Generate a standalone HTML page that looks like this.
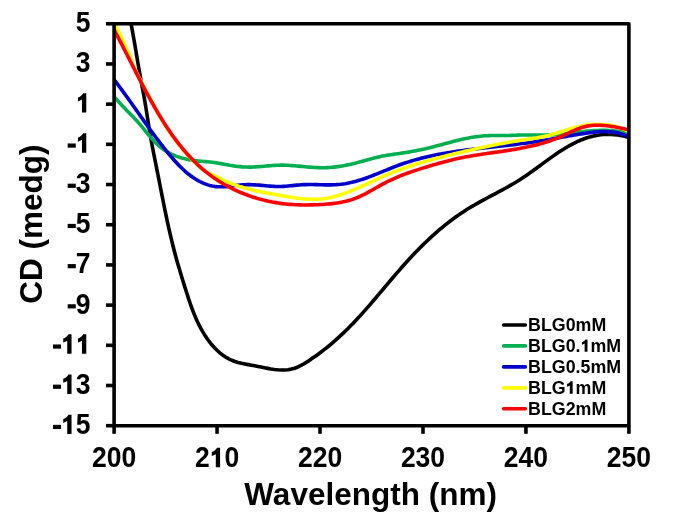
<!DOCTYPE html>
<html><head><meta charset="utf-8"><style>
html,body{margin:0;padding:0;background:#fff;width:673px;height:520px;overflow:hidden;}
svg{display:block;will-change:transform;}
</style></head><body>
<svg width="673" height="520" viewBox="0 0 673 520">
<defs><clipPath id="pa"><rect x="114.1" y="23.8" width="514.8" height="401.9"/></clipPath></defs>
<g clip-path="url(#pa)" fill="none" stroke-width="3.6" stroke-linejoin="round" stroke-linecap="butt">
<path d="M128.56,11.08 L131.17,24.52 L131.81,27.85 L132.43,31.17 L133.04,34.49 L133.63,37.81 L134.21,41.12 L134.78,44.43 L135.35,47.74 L135.91,51.05 L136.46,54.35 L137.02,57.66 L137.57,60.96 L138.13,64.26 L138.70,67.56 L139.27,70.86 L139.85,74.16 L140.44,77.46 L141.05,80.76 L141.66,84.06 L142.29,87.37 L142.91,90.67 L143.53,93.98 L144.13,97.29 L144.72,100.61 L145.28,103.93 L145.82,107.26 L146.35,110.59 L146.88,113.92 L147.39,117.25 L147.90,120.58 L148.42,123.91 L148.95,127.23 L149.49,130.55 L150.04,133.87 L150.61,137.17 L151.21,140.48 L151.82,143.77 L152.44,147.06 L153.08,150.35 L153.72,153.64 L154.37,156.92 L155.03,160.20 L155.69,163.49 L156.35,166.77 L157.01,170.06 L157.66,173.35 L158.31,176.64 L158.96,179.93 L159.61,183.23 L160.25,186.53 L160.90,189.83 L161.55,193.12 L162.20,196.42 L162.86,199.72 L163.51,203.02 L164.18,206.32 L164.85,209.62 L165.53,212.91 L166.22,216.20 L166.91,219.49 L167.62,222.78 L168.34,226.07 L169.07,229.35 L169.82,232.63 L170.57,235.90 L171.35,239.17 L172.14,242.44 L172.95,245.70 L173.78,248.95 L174.62,252.20 L175.49,255.45 L176.38,258.68 L177.28,261.91 L178.21,265.14 L179.15,268.36 L180.10,271.57 L181.07,274.78 L182.05,277.99 L183.04,281.19 L184.03,284.39 L185.03,287.59 L186.04,290.78 L187.06,293.97 L188.08,297.16 L189.13,300.34 L190.21,303.52 L191.32,306.68 L192.48,309.83 L193.70,312.97 L194.97,316.09 L196.32,319.20 L197.74,322.29 L199.24,325.35 L200.84,328.40 L202.54,331.42 L204.36,334.41 L206.28,337.35 L208.31,340.23 L210.45,343.04 L212.71,345.74 L215.08,348.32 L217.56,350.76 L220.16,353.05 L222.87,355.16 L225.70,357.07 L228.64,358.78 L231.70,360.25 L234.88,361.47 L238.15,362.47 L241.48,363.30 L244.84,363.99 L248.18,364.62 L251.49,365.21 L254.73,365.81 L257.93,366.44 L261.13,367.08 L264.37,367.74 L267.68,368.38 L271.02,368.96 L274.40,369.45 L277.80,369.81 L281.21,369.99 L284.61,369.96 L288.00,369.68 L291.36,369.11 L294.67,368.20 L297.91,366.95 L301.05,365.43 L304.09,363.72 L307.02,361.90 L309.86,360.02 L312.65,358.11 L315.40,356.16 L318.11,354.18 L320.81,352.18 L323.49,350.15 L326.15,348.08 L328.77,345.98 L331.36,343.83 L333.90,341.65 L336.42,339.44 L338.90,337.20 L341.35,334.93 L343.78,332.63 L346.17,330.31 L348.54,327.95 L350.89,325.58 L353.21,323.18 L355.51,320.76 L357.79,318.32 L360.05,315.86 L362.29,313.39 L364.52,310.89 L366.73,308.39 L368.93,305.87 L371.12,303.33 L373.30,300.79 L375.47,298.24 L377.64,295.69 L379.80,293.12 L381.97,290.56 L384.13,287.99 L386.29,285.42 L388.46,282.85 L390.63,280.28 L392.81,277.72 L394.99,275.16 L397.19,272.61 L399.39,270.06 L401.61,267.53 L403.85,265.01 L406.10,262.50 L408.37,260.00 L410.66,257.52 L412.97,255.05 L415.30,252.61 L417.65,250.18 L420.02,247.77 L422.41,245.39 L424.83,243.03 L427.27,240.69 L429.73,238.38 L432.21,236.10 L434.72,233.85 L437.25,231.63 L439.80,229.44 L442.38,227.28 L444.98,225.16 L447.61,223.07 L450.27,221.03 L452.95,219.02 L455.66,217.04 L458.39,215.12 L461.15,213.23 L463.94,211.39 L466.76,209.59 L469.60,207.84 L472.48,206.13 L475.37,204.46 L478.28,202.82 L481.21,201.20 L484.16,199.60 L487.11,198.02 L490.08,196.45 L493.05,194.87 L496.02,193.30 L498.99,191.71 L501.96,190.12 L504.92,188.50 L507.87,186.86 L510.81,185.18 L513.73,183.47 L516.64,181.72 L519.52,179.92 L522.38,178.07 L525.22,176.16 L528.04,174.22 L530.84,172.24 L533.63,170.24 L536.41,168.22 L539.18,166.19 L541.94,164.15 L544.71,162.12 L547.47,160.10 L550.24,158.11 L553.01,156.14 L555.79,154.21 L558.59,152.32 L561.40,150.48 L564.23,148.70 L567.08,146.99 L569.96,145.35 L572.86,143.80 L575.80,142.33 L578.76,140.97 L581.77,139.70 L584.81,138.56 L587.89,137.53 L591.02,136.63 L594.20,135.87 L597.43,135.25 L600.71,134.78 L604.05,134.48 L607.45,134.34 L610.91,134.38 L614.44,134.59 L618.03,135.00 L621.70,135.61 L625.44,136.43 L629.26,137.45" stroke="#000000"/>
<path d="M106.27,87.27 L114.71,97.30 L116.15,99.00 L117.60,100.65 L119.07,102.28 L120.55,103.89 L122.03,105.47 L123.53,107.04 L125.03,108.60 L126.54,110.14 L128.04,111.68 L129.55,113.22 L131.05,114.76 L132.55,116.31 L134.04,117.87 L135.52,119.44 L136.99,121.03 L138.44,122.64 L139.88,124.28 L141.30,125.94 L142.71,127.63 L144.11,129.34 L145.50,131.06 L146.90,132.77 L148.30,134.49 L149.72,136.19 L151.15,137.87 L152.61,139.53 L154.09,141.15 L155.61,142.73 L157.17,144.26 L158.76,145.73 L160.41,147.15 L162.11,148.49 L163.87,149.76 L165.68,150.95 L167.55,152.07 L169.46,153.12 L171.41,154.09 L173.41,155.00 L175.44,155.84 L177.50,156.62 L179.60,157.33 L181.72,157.98 L183.86,158.57 L186.02,159.09 L188.19,159.56 L190.38,159.97 L192.57,160.33 L194.77,160.63 L196.97,160.88 L199.17,161.09 L201.37,161.27 L203.56,161.44 L205.74,161.61 L207.92,161.80 L210.09,162.01 L212.24,162.27 L214.39,162.56 L216.53,162.88 L218.66,163.23 L220.80,163.61 L222.93,164.01 L225.06,164.41 L227.20,164.81 L229.34,165.19 L231.48,165.56 L233.64,165.89 L235.80,166.18 L237.97,166.44 L240.13,166.66 L242.31,166.84 L244.48,166.97 L246.65,167.06 L248.82,167.09 L250.99,167.08 L253.16,167.01 L255.32,166.91 L257.48,166.77 L259.64,166.61 L261.80,166.43 L263.97,166.24 L266.13,166.05 L268.29,165.86 L270.45,165.67 L272.62,165.51 L274.78,165.37 L276.95,165.26 L279.13,165.18 L281.30,165.15 L283.48,165.17 L285.66,165.22 L287.85,165.31 L290.03,165.44 L292.22,165.58 L294.41,165.75 L296.60,165.94 L298.80,166.13 L300.99,166.34 L303.18,166.54 L305.37,166.74 L307.56,166.94 L309.75,167.12 L311.94,167.29 L314.13,167.44 L316.32,167.56 L318.50,167.65 L320.68,167.70 L322.86,167.71 L325.04,167.68 L327.21,167.60 L329.37,167.48 L331.54,167.32 L333.70,167.11 L335.85,166.87 L338.01,166.59 L340.16,166.27 L342.30,165.91 L344.44,165.53 L346.58,165.11 L348.72,164.67 L350.85,164.20 L352.97,163.70 L355.09,163.17 L357.21,162.63 L359.33,162.07 L361.45,161.50 L363.56,160.92 L365.67,160.34 L367.78,159.76 L369.90,159.19 L372.01,158.62 L374.13,158.07 L376.24,157.54 L378.37,157.04 L380.49,156.56 L382.62,156.11 L384.76,155.70 L386.90,155.32 L389.04,154.98 L391.19,154.66 L393.34,154.35 L395.49,154.06 L397.65,153.76 L399.80,153.46 L401.94,153.15 L404.09,152.82 L406.23,152.47 L408.37,152.11 L410.51,151.74 L412.65,151.35 L414.78,150.94 L416.91,150.52 L419.04,150.09 L421.17,149.64 L423.30,149.18 L425.42,148.70 L427.54,148.21 L429.65,147.70 L431.77,147.18 L433.88,146.65 L435.99,146.10 L438.10,145.55 L440.21,144.99 L442.32,144.42 L444.43,143.85 L446.54,143.29 L448.64,142.72 L450.75,142.16 L452.86,141.61 L454.97,141.07 L457.09,140.54 L459.20,140.02 L461.32,139.52 L463.44,139.04 L465.56,138.58 L467.69,138.14 L469.82,137.73 L471.96,137.35 L474.10,137.01 L476.25,136.69 L478.40,136.41 L480.56,136.17 L482.73,135.96 L484.90,135.81 L487.08,135.69 L489.26,135.61 L491.45,135.55 L493.64,135.53 L495.83,135.51 L498.03,135.51 L500.22,135.52 L502.41,135.52 L504.60,135.51 L506.79,135.49 L508.97,135.45 L511.15,135.39 L513.32,135.30 L515.49,135.20 L517.65,135.10 L519.82,135.03 L521.99,134.98 L524.16,134.96 L526.33,134.97 L528.50,134.98 L530.68,135.01 L532.86,135.04 L535.03,135.08 L537.21,135.10 L539.39,135.11 L541.56,135.10 L543.74,135.07 L545.91,135.01 L548.09,134.92 L550.26,134.80 L552.43,134.66 L554.60,134.50 L556.77,134.32 L558.94,134.12 L561.11,133.91 L563.28,133.69 L565.45,133.45 L567.62,133.21 L569.79,132.97 L571.95,132.72 L574.12,132.47 L576.29,132.23 L578.46,131.99 L580.62,131.75 L582.79,131.53 L584.96,131.32 L587.13,131.12 L589.30,130.94 L591.47,130.78 L593.64,130.63 L595.81,130.52 L597.98,130.43 L600.15,130.36 L602.32,130.33 L604.50,130.33 L606.67,130.37 L608.84,130.45 L611.02,130.56 L613.20,130.72 L615.38,130.92 L617.56,131.18 L619.74,131.48 L621.92,131.83 L624.11,132.24 L626.29,132.71 L628.48,133.23" stroke="#00B050"/>
<path d="M106.56,69.76 L114.56,80.24 L116.00,82.13 L117.42,84.00 L118.82,85.88 L120.21,87.75 L121.59,89.61 L122.95,91.48 L124.31,93.33 L125.65,95.19 L126.98,97.04 L128.31,98.89 L129.63,100.73 L130.94,102.57 L132.24,104.41 L133.54,106.25 L134.84,108.08 L136.13,109.91 L137.42,111.74 L138.71,113.57 L140.00,115.40 L141.30,117.23 L142.59,119.05 L143.88,120.88 L145.18,122.70 L146.49,124.52 L147.79,126.34 L149.11,128.17 L150.43,129.99 L151.76,131.81 L153.10,133.63 L154.45,135.46 L155.81,137.28 L157.18,139.11 L158.57,140.93 L159.96,142.76 L161.38,144.59 L162.80,146.42 L164.25,148.25 L165.71,150.09 L167.19,151.93 L168.69,153.76 L170.21,155.59 L171.75,157.40 L173.31,159.20 L174.89,160.99 L176.49,162.74 L178.12,164.47 L179.77,166.17 L181.45,167.83 L183.15,169.45 L184.87,171.03 L186.63,172.55 L188.41,174.02 L190.22,175.44 L192.05,176.79 L193.92,178.07 L195.82,179.29 L197.74,180.43 L199.70,181.49 L201.69,182.47 L203.72,183.36 L205.77,184.15 L207.87,184.86 L209.99,185.46 L212.15,185.95 L214.35,186.34 L216.59,186.61 L218.86,186.77 L221.17,186.81 L223.52,186.74 L225.89,186.59 L228.28,186.37 L230.69,186.11 L233.10,185.82 L235.53,185.53 L237.94,185.25 L240.35,185.01 L242.75,184.81 L245.13,184.69 L247.48,184.64 L249.82,184.65 L252.14,184.72 L254.44,184.83 L256.73,184.98 L259.00,185.16 L261.26,185.35 L263.51,185.56 L265.75,185.76 L267.98,185.96 L270.21,186.14 L272.43,186.29 L274.64,186.41 L276.86,186.48 L279.07,186.50 L281.28,186.46 L283.50,186.36 L285.71,186.22 L287.94,186.03 L290.16,185.82 L292.39,185.60 L294.63,185.37 L296.88,185.16 L299.14,184.96 L301.40,184.79 L303.68,184.67 L305.97,184.59 L308.27,184.56 L310.58,184.55 L312.90,184.57 L315.22,184.61 L317.55,184.67 L319.88,184.72 L322.20,184.78 L324.53,184.83 L326.85,184.86 L329.17,184.86 L331.49,184.84 L333.79,184.78 L336.09,184.67 L338.37,184.51 L340.64,184.29 L342.90,184.01 L345.15,183.67 L347.38,183.28 L349.60,182.83 L351.81,182.33 L354.01,181.78 L356.21,181.19 L358.39,180.55 L360.56,179.88 L362.73,179.18 L364.89,178.44 L367.04,177.68 L369.19,176.89 L371.34,176.08 L373.48,175.25 L375.61,174.41 L377.75,173.55 L379.88,172.69 L382.01,171.82 L384.14,170.95 L386.28,170.08 L388.41,169.21 L390.55,168.35 L392.68,167.50 L394.82,166.67 L396.97,165.85 L399.12,165.05 L401.27,164.27 L403.43,163.53 L405.60,162.80 L407.77,162.10 L409.95,161.42 L412.13,160.76 L414.32,160.12 L416.51,159.51 L418.70,158.91 L420.90,158.34 L423.11,157.78 L425.32,157.25 L427.53,156.73 L429.75,156.23 L431.97,155.74 L434.19,155.28 L436.42,154.82 L438.65,154.39 L440.89,153.96 L443.13,153.56 L445.37,153.16 L447.61,152.78 L449.86,152.41 L452.11,152.05 L454.36,151.70 L456.62,151.37 L458.87,151.04 L461.13,150.72 L463.39,150.41 L465.65,150.11 L467.92,149.82 L470.18,149.53 L472.45,149.25 L474.72,148.98 L476.99,148.71 L479.26,148.44 L481.53,148.18 L483.80,147.93 L486.08,147.67 L488.35,147.42 L490.62,147.17 L492.90,146.92 L495.17,146.67 L497.45,146.42 L499.72,146.17 L501.99,145.92 L504.27,145.67 L506.54,145.42 L508.81,145.16 L511.08,144.90 L513.35,144.63 L515.62,144.36 L517.88,144.08 L520.15,143.80 L522.41,143.51 L524.68,143.22 L526.94,142.91 L529.20,142.60 L531.45,142.28 L533.71,141.95 L535.96,141.61 L538.21,141.26 L540.46,140.90 L542.70,140.53 L544.95,140.16 L547.19,139.78 L549.44,139.40 L551.68,139.01 L553.92,138.61 L556.16,138.22 L558.41,137.82 L560.65,137.43 L562.89,137.03 L565.14,136.64 L567.39,136.24 L569.63,135.85 L571.88,135.46 L574.14,135.08 L576.39,134.71 L578.65,134.34 L580.91,133.97 L583.18,133.62 L585.45,133.28 L587.72,132.94 L589.99,132.63 L592.27,132.35 L594.55,132.10 L596.83,131.89 L599.10,131.72 L601.38,131.61 L603.66,131.56 L605.94,131.57 L608.21,131.65 L610.49,131.81 L612.76,132.06 L615.02,132.39 L617.28,132.83 L619.54,133.36 L621.79,134.01 L624.03,134.77 L626.27,135.66 L628.50,136.67" stroke="#0000CC"/>
<path d="M108.56,12.57 L114.76,24.29 L115.93,26.53 L117.09,28.76 L118.22,31.00 L119.34,33.23 L120.43,35.47 L121.52,37.72 L122.58,39.96 L123.64,42.21 L124.68,44.45 L125.71,46.70 L126.73,48.94 L127.74,51.19 L128.74,53.50 L129.74,55.96 L130.73,58.51 L131.72,61.07 L132.70,63.59 L133.68,66.02 L134.66,68.34 L135.63,70.54 L136.61,72.62 L137.59,74.60 L138.58,76.52 L139.57,78.44 L140.56,80.36 L141.56,82.29 L142.57,84.22 L143.58,86.15 L144.61,88.09 L145.64,90.05 L146.69,92.01 L147.75,93.98 L148.83,95.96 L149.92,97.95 L151.03,99.99 L152.15,102.10 L153.30,104.27 L154.46,106.49 L155.65,108.75 L156.85,111.03 L158.08,113.31 L159.34,115.58 L160.62,117.81 L161.92,119.98 L163.25,122.11 L164.61,124.25 L166.00,126.39 L167.41,128.53 L168.85,130.67 L170.32,132.81 L171.81,134.95 L173.33,137.07 L174.88,139.19 L176.45,141.29 L178.05,143.38 L179.67,145.45 L181.31,147.50 L182.99,149.52 L184.68,151.53 L186.41,153.51 L188.15,155.46 L189.92,157.38 L191.72,159.28 L193.54,161.14 L195.38,162.96 L197.25,164.76 L199.14,166.51 L201.06,168.22 L202.99,169.76 L204.95,171.13 L206.94,172.34 L208.94,173.40 L210.97,174.35 L213.03,175.23 L215.10,176.12 L217.19,177.10 L219.31,178.22 L221.45,179.30 L223.61,180.34 L225.79,181.33 L228.00,182.27 L230.22,183.17 L232.46,184.02 L234.71,184.84 L236.99,185.61 L239.28,186.36 L241.59,187.06 L243.91,187.74 L246.25,188.38 L248.60,189.00 L250.96,189.59 L253.34,190.15 L255.73,190.70 L258.13,191.22 L260.54,191.73 L262.96,192.22 L265.39,192.70 L267.82,193.16 L270.27,193.62 L272.72,194.06 L275.18,194.51 L277.65,194.95 L280.12,195.38 L282.59,195.82 L285.07,196.25 L287.55,196.67 L290.03,197.08 L292.51,197.47 L295.00,197.84 L297.48,198.17 L299.95,198.48 L302.43,198.74 L304.90,198.97 L307.36,199.14 L309.82,199.26 L312.26,199.32 L314.70,199.32 L317.13,199.26 L319.55,199.12 L321.96,198.90 L324.35,198.61 L326.74,198.24 L329.11,197.80 L331.47,197.30 L333.82,196.73 L336.17,196.11 L338.50,195.42 L340.83,194.69 L343.15,193.91 L345.46,193.09 L347.77,192.23 L350.07,191.32 L352.36,190.39 L354.65,189.43 L356.94,188.44 L359.22,187.43 L361.50,186.40 L363.78,185.36 L366.06,184.31 L368.34,183.25 L370.61,182.19 L372.89,181.12 L375.16,180.07 L377.44,179.02 L379.72,177.98 L382.00,176.96 L384.28,175.95 L386.57,174.97 L388.86,174.01 L391.16,173.08 L393.46,172.16 L395.76,171.27 L398.06,170.40 L400.37,169.54 L402.69,168.71 L405.00,167.89 L407.32,167.09 L409.64,166.31 L411.97,165.54 L414.30,164.79 L416.63,164.06 L418.97,163.34 L421.31,162.63 L423.65,161.94 L426.00,161.26 L428.35,160.59 L430.70,159.94 L433.06,159.29 L435.42,158.66 L437.78,158.03 L440.14,157.41 L442.51,156.80 L444.88,156.20 L447.26,155.61 L449.63,155.02 L452.01,154.44 L454.40,153.86 L456.78,153.29 L459.17,152.72 L461.57,152.16 L463.96,151.60 L466.36,151.04 L468.76,150.49 L471.16,149.94 L473.57,149.40 L475.98,148.86 L478.38,148.33 L480.80,147.80 L483.21,147.28 L485.62,146.77 L488.04,146.26 L490.46,145.76 L492.88,145.27 L495.30,144.79 L497.72,144.31 L500.14,143.85 L502.56,143.39 L504.98,142.95 L507.41,142.51 L509.83,142.09 L512.25,141.67 L514.68,141.27 L517.10,140.88 L519.52,140.50 L521.95,140.13 L524.37,139.77 L526.79,139.42 L529.21,139.06 L531.63,138.69 L534.04,138.31 L536.45,137.91 L538.86,137.48 L541.26,137.03 L543.66,136.54 L546.05,136.01 L548.44,135.43 L550.82,134.80 L553.19,134.13 L555.56,133.42 L557.93,132.69 L560.30,131.94 L562.67,131.18 L565.04,130.43 L567.42,129.69 L569.80,128.96 L572.19,128.26 L574.59,127.61 L576.99,126.99 L579.41,126.44 L581.84,125.94 L584.28,125.51 L586.72,125.14 L589.18,124.84 L591.64,124.61 L594.10,124.45 L596.57,124.36 L599.05,124.35 L601.52,124.43 L603.99,124.58 L606.47,124.82 L608.94,125.15 L611.41,125.57 L613.88,126.08 L616.34,126.68 L618.79,127.39 L621.24,128.19 L623.68,129.10 L626.11,130.11 L628.53,131.22" stroke="#FFFF00"/>
<path d="M108.52,19.40 L114.78,31.13 L115.99,33.40 L117.19,35.67 L118.38,37.93 L119.55,40.17 L120.72,42.41 L121.87,44.65 L123.02,46.87 L124.15,49.09 L125.28,51.30 L126.41,53.50 L127.53,55.70 L128.64,57.89 L129.75,60.08 L130.85,62.26 L131.96,64.44 L133.06,66.61 L134.16,68.78 L135.26,70.94 L136.37,73.11 L137.47,75.27 L138.58,77.42 L139.69,79.58 L140.80,81.73 L141.92,83.88 L143.05,86.03 L144.18,88.18 L145.32,90.33 L146.46,92.48 L147.62,94.63 L148.79,96.78 L149.96,98.93 L151.15,101.08 L152.35,103.22 L153.56,105.37 L154.78,107.51 L156.02,109.65 L157.26,111.78 L158.52,113.91 L159.80,116.03 L161.09,118.14 L162.39,120.24 L163.71,122.34 L165.05,124.42 L166.40,126.50 L167.77,128.56 L169.15,130.61 L170.55,132.65 L171.97,134.67 L173.41,136.68 L174.86,138.67 L176.34,140.65 L177.83,142.61 L179.35,144.55 L180.88,146.47 L182.44,148.37 L184.02,150.25 L185.62,152.11 L187.24,153.94 L188.88,155.76 L190.55,157.55 L192.24,159.31 L193.95,161.05 L195.69,162.76 L197.45,164.45 L199.24,166.10 L201.05,167.73 L202.89,169.33 L204.75,170.89 L206.65,172.43 L208.57,173.93 L210.51,175.40 L212.49,176.84 L214.49,178.24 L216.52,179.60 L218.58,180.94 L220.66,182.23 L222.76,183.50 L224.89,184.73 L227.04,185.92 L229.21,187.08 L231.40,188.20 L233.61,189.29 L235.84,190.34 L238.09,191.35 L240.36,192.33 L242.64,193.28 L244.94,194.18 L247.25,195.05 L249.57,195.89 L251.91,196.69 L254.26,197.45 L256.62,198.17 L259.00,198.86 L261.38,199.51 L263.77,200.13 L266.17,200.70 L268.57,201.24 L270.98,201.74 L273.40,202.20 L275.82,202.63 L278.24,203.02 L280.67,203.37 L283.09,203.68 L285.52,203.95 L287.96,204.19 L290.39,204.39 L292.83,204.56 L295.27,204.70 L297.72,204.81 L300.17,204.89 L302.62,204.93 L305.08,204.96 L307.54,204.95 L310.01,204.92 L312.49,204.87 L314.97,204.79 L317.45,204.69 L319.94,204.57 L322.44,204.43 L324.94,204.27 L327.45,204.08 L329.95,203.86 L332.44,203.60 L334.93,203.30 L337.41,202.95 L339.87,202.55 L342.31,202.10 L344.74,201.58 L347.14,201.00 L349.52,200.35 L351.87,199.63 L354.18,198.82 L356.47,197.94 L358.72,196.99 L360.95,195.97 L363.15,194.90 L365.34,193.78 L367.51,192.63 L369.67,191.44 L371.82,190.24 L373.96,189.02 L376.10,187.80 L378.25,186.59 L380.39,185.38 L382.55,184.20 L384.72,183.05 L386.90,181.93 L389.10,180.85 L391.31,179.81 L393.54,178.79 L395.77,177.81 L398.02,176.85 L400.28,175.93 L402.55,175.03 L404.83,174.15 L407.12,173.30 L409.42,172.47 L411.73,171.66 L414.05,170.87 L416.37,170.10 L418.71,169.34 L421.04,168.60 L423.39,167.87 L425.74,167.16 L428.09,166.45 L430.45,165.76 L432.81,165.07 L435.18,164.39 L437.55,163.71 L439.92,163.05 L442.30,162.40 L444.68,161.76 L447.06,161.14 L449.45,160.53 L451.84,159.94 L454.23,159.37 L456.63,158.82 L459.03,158.29 L461.44,157.79 L463.85,157.30 L466.26,156.84 L468.67,156.40 L471.09,155.97 L473.51,155.56 L475.93,155.16 L478.36,154.78 L480.78,154.41 L483.21,154.04 L485.64,153.68 L488.06,153.33 L490.49,152.98 L492.92,152.64 L495.35,152.29 L497.77,151.95 L500.20,151.60 L502.62,151.25 L505.05,150.89 L507.47,150.52 L509.88,150.14 L512.30,149.75 L514.71,149.35 L517.12,148.94 L519.53,148.50 L521.93,148.05 L524.33,147.58 L526.73,147.09 L529.12,146.58 L531.50,146.04 L533.88,145.48 L536.25,144.89 L538.62,144.28 L540.98,143.63 L543.33,142.95 L545.68,142.24 L548.01,141.50 L550.34,140.72 L552.67,139.90 L554.98,139.04 L557.28,138.15 L559.58,137.21 L561.86,136.23 L564.14,135.21 L566.40,134.15 L568.66,133.07 L570.93,131.99 L573.19,130.93 L575.47,129.91 L577.75,128.96 L580.06,128.08 L582.38,127.31 L584.73,126.66 L587.11,126.13 L589.52,125.74 L591.95,125.46 L594.39,125.29 L596.85,125.22 L599.32,125.24 L601.80,125.35 L604.28,125.53 L606.76,125.78 L609.24,126.08 L611.71,126.44 L614.17,126.84 L616.61,127.27 L619.04,127.72 L621.45,128.19 L623.83,128.68 L626.19,129.15 L628.51,129.63" stroke="#FF0000"/>
</g>
<g stroke="#000" stroke-width="3.6" fill="none" stroke-linejoin="round">
<rect x="114.1" y="23.8" width="514.8" height="401.9"/>
<line x1="106" y1="23.75" x2="114.1" y2="23.75"/>
<line x1="106" y1="63.95" x2="114.1" y2="63.95"/>
<line x1="106" y1="104.14" x2="114.1" y2="104.14"/>
<line x1="106" y1="144.33" x2="114.1" y2="144.33"/>
<line x1="106" y1="184.53" x2="114.1" y2="184.53"/>
<line x1="106" y1="224.72" x2="114.1" y2="224.72"/>
<line x1="106" y1="264.92" x2="114.1" y2="264.92"/>
<line x1="106" y1="305.12" x2="114.1" y2="305.12"/>
<line x1="106" y1="345.31" x2="114.1" y2="345.31"/>
<line x1="106" y1="385.50" x2="114.1" y2="385.50"/>
<line x1="106" y1="425.70" x2="114.1" y2="425.70"/>
<line x1="114.10" y1="425.7" x2="114.10" y2="433.8"/>
<line x1="217.06" y1="425.7" x2="217.06" y2="433.8"/>
<line x1="320.02" y1="425.7" x2="320.02" y2="433.8"/>
<line x1="422.98" y1="425.7" x2="422.98" y2="433.8"/>
<line x1="525.94" y1="425.7" x2="525.94" y2="433.8"/>
<line x1="628.90" y1="425.7" x2="628.90" y2="433.8"/>
</g>
<g font-family="Liberation Sans" font-weight="bold" fill="#000">
<text transform="translate(75.87,32.15) scale(1,1.100)" font-size="26.50">5</text>
<text transform="translate(75.87,72.34) scale(1,1.100)" font-size="26.50">3</text>
<path transform="translate(75.87,112.54) scale(1.0000,1.0000)" d="M10.4,-19.4 L10.4,0 L6.1,0 L6.1,-13.0 C4.9,-12.2 3.5,-11.6 2.1,-11.1 L2.1,-15.1 C4.1,-15.8 6.1,-17.3 7.4,-19.4 Z"/>
<rect x="67.69" y="143.48" width="8.1" height="4.2"/>
<path transform="translate(75.87,152.73) scale(1.0000,1.0000)" d="M10.4,-19.4 L10.4,0 L6.1,0 L6.1,-13.0 C4.9,-12.2 3.5,-11.6 2.1,-11.1 L2.1,-15.1 C4.1,-15.8 6.1,-17.3 7.4,-19.4 Z"/>
<rect x="67.69" y="183.68" width="8.1" height="4.2"/>
<text transform="translate(75.87,192.93) scale(1,1.100)" font-size="26.50">3</text>
<rect x="67.69" y="223.88" width="8.1" height="4.2"/>
<text transform="translate(75.87,233.12) scale(1,1.100)" font-size="26.50">5</text>
<rect x="67.69" y="264.07" width="8.1" height="4.2"/>
<text transform="translate(75.87,273.32) scale(1,1.100)" font-size="26.50">7</text>
<rect x="67.69" y="304.26" width="8.1" height="4.2"/>
<text transform="translate(75.87,313.51) scale(1,1.100)" font-size="26.50">9</text>
<rect x="52.96" y="344.46" width="8.1" height="4.2"/>
<path transform="translate(61.13,353.71) scale(1.0000,1.0000)" d="M10.4,-19.4 L10.4,0 L6.1,0 L6.1,-13.0 C4.9,-12.2 3.5,-11.6 2.1,-11.1 L2.1,-15.1 C4.1,-15.8 6.1,-17.3 7.4,-19.4 Z"/>
<path transform="translate(75.87,353.71) scale(1.0000,1.0000)" d="M10.4,-19.4 L10.4,0 L6.1,0 L6.1,-13.0 C4.9,-12.2 3.5,-11.6 2.1,-11.1 L2.1,-15.1 C4.1,-15.8 6.1,-17.3 7.4,-19.4 Z"/>
<rect x="52.96" y="384.65" width="8.1" height="4.2"/>
<path transform="translate(61.13,393.90) scale(1.0000,1.0000)" d="M10.4,-19.4 L10.4,0 L6.1,0 L6.1,-13.0 C4.9,-12.2 3.5,-11.6 2.1,-11.1 L2.1,-15.1 C4.1,-15.8 6.1,-17.3 7.4,-19.4 Z"/>
<text transform="translate(75.87,393.90) scale(1,1.100)" font-size="26.50">3</text>
<rect x="52.96" y="424.85" width="8.1" height="4.2"/>
<path transform="translate(61.13,434.10) scale(1.0000,1.0000)" d="M10.4,-19.4 L10.4,0 L6.1,0 L6.1,-13.0 C4.9,-12.2 3.5,-11.6 2.1,-11.1 L2.1,-15.1 C4.1,-15.8 6.1,-17.3 7.4,-19.4 Z"/>
<text transform="translate(75.87,434.10) scale(1,1.100)" font-size="26.50">5</text>
<text transform="translate(92.00,467.20) scale(1,1.100)" font-size="26.50">200</text>
<text transform="translate(194.96,467.20) scale(1,1.100)" font-size="26.50">2</text>
<path transform="translate(209.69,467.20) scale(1.0000,1.0000)" d="M10.4,-19.4 L10.4,0 L6.1,0 L6.1,-13.0 C4.9,-12.2 3.5,-11.6 2.1,-11.1 L2.1,-15.1 C4.1,-15.8 6.1,-17.3 7.4,-19.4 Z"/>
<text transform="translate(224.43,467.20) scale(1,1.100)" font-size="26.50">0</text>
<text transform="translate(297.92,467.20) scale(1,1.100)" font-size="26.50">220</text>
<text transform="translate(400.88,467.20) scale(1,1.100)" font-size="26.50">230</text>
<text transform="translate(503.84,467.20) scale(1,1.100)" font-size="26.50">240</text>
<text transform="translate(606.80,467.20) scale(1,1.100)" font-size="26.50">250</text>
<text transform="translate(244.3,505.4)" font-size="31.5">Wavelength (nm)</text>
<text transform="translate(42.3,303.8) rotate(-90)" font-size="31.5">CD (medg)</text>
<line x1="503.6" y1="325.0" x2="525.4" y2="325.0" stroke="#000000" stroke-width="3.6" stroke-linecap="round"/>
<text transform="translate(528.10,330.90) scale(1,1.050)" font-size="17.80">BLG0mM</text>
<line x1="503.6" y1="345.9" x2="525.4" y2="345.9" stroke="#00B050" stroke-width="3.6" stroke-linecap="round"/>
<text transform="translate(528.10,351.85) scale(1,1.050)" font-size="17.80">BLG0.</text>
<path transform="translate(580.52,351.85) scale(0.6717,0.6412)" d="M10.4,-19.4 L10.4,0 L6.1,0 L6.1,-13.0 C4.9,-12.2 3.5,-11.6 2.1,-11.1 L2.1,-15.1 C4.1,-15.8 6.1,-17.3 7.4,-19.4 Z"/>
<text transform="translate(590.42,351.85) scale(1,1.050)" font-size="17.80">mM</text>
<line x1="503.6" y1="366.9" x2="525.4" y2="366.9" stroke="#0000CC" stroke-width="3.6" stroke-linecap="round"/>
<text transform="translate(528.10,372.80) scale(1,1.050)" font-size="17.80">BLG0.5mM</text>
<line x1="503.6" y1="387.9" x2="525.4" y2="387.9" stroke="#FFFF00" stroke-width="3.6" stroke-linecap="round"/>
<text transform="translate(528.10,393.75) scale(1,1.050)" font-size="17.80">BLG</text>
<path transform="translate(565.68,393.75) scale(0.6717,0.6412)" d="M10.4,-19.4 L10.4,0 L6.1,0 L6.1,-13.0 C4.9,-12.2 3.5,-11.6 2.1,-11.1 L2.1,-15.1 C4.1,-15.8 6.1,-17.3 7.4,-19.4 Z"/>
<text transform="translate(575.57,393.75) scale(1,1.050)" font-size="17.80">mM</text>
<line x1="503.6" y1="408.8" x2="525.4" y2="408.8" stroke="#FF0000" stroke-width="3.6" stroke-linecap="round"/>
<text transform="translate(528.10,414.70) scale(1,1.050)" font-size="17.80">BLG2mM</text>
</g>
</svg>
</body></html>
